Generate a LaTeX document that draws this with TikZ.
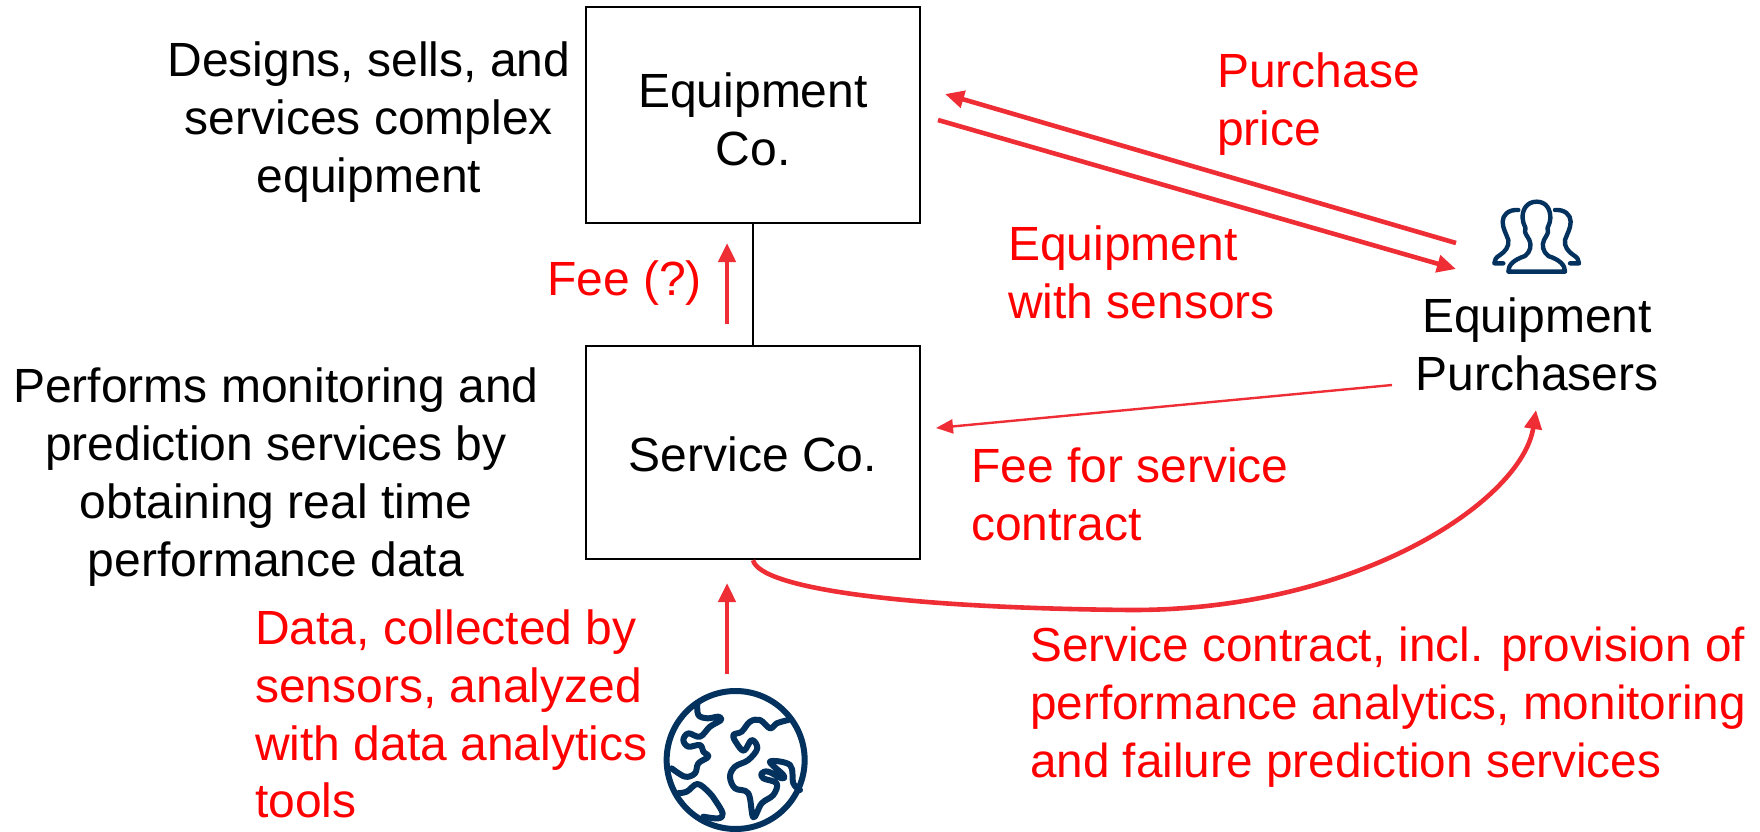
\documentclass[tikz,border=0pt]{standalone}
\usepackage{fontspec}
\setmainfont{Liberation Sans}
\usetikzlibrary{arrows.meta}
\definecolor{arrowred}{HTML}{EE2D35}
\definecolor{navy}{HTML}{03325F}
\tikzset{
  x=1pt,y=-1pt,
  box/.style={draw=black,line width=2.4pt,minimum width=334pt,inner sep=0pt,align=center},
  lbl/.style={inner sep=0pt,align=center,font=\fontsize{48}{57.8}\selectfont},
  rlbl/.style={lbl,text=red,align=left},
  flow/.style={draw=arrowred,line width=4.6pt,-{Triangle[length=19pt,width=17pt]}},
  thinflow/.style={draw=arrowred,line width=2.4pt,-{Triangle[length=17pt,width=14pt]}},
  icon/.style={draw=navy,line width=6pt,line cap=round,line join=round}
}
\begin{document}
\begin{tikzpicture}
\useasboundingbox (0,0) rectangle (1760,831);
\node[box,minimum height=216pt] (equip) at (753,115) {};
\node[box,minimum height=213pt] (service) at (753,452.5) {};
\node[lbl] (equiptext) at (753,119) {Equipment\\Co.};
\node[lbl] (servicetext) at (753,454) {Service Co.};
\node[lbl] (designs) at (369,122) {Designs, sells, and\\services complex\\equipment};
\node[lbl] (performs) at (276,477) {Performs monitoring and\\prediction services by\\obtaining real time\\performance data};
\node[lbl] (purchasers) at (1537,344) {Equipment\\Purchasers};
\node[rlbl] (pprice) at (1217,104) [anchor=west] {Purchase\\price};
\node[rlbl] (withsensors) at (1008,272) [anchor=west] {Equipment\\with sensors};
\node[rlbl] (feeservice) at (971,494) [anchor=west] {Fee for service\\contract};
\node[rlbl,font=\fontsize{47.7}{57.8}\selectfont] (contract) at (1030,707) [anchor=west] {Service contract, incl. provision of\\performance analytics, monitoring\\and failure prediction services};
\node[rlbl] (datacoll) at (255,714) [anchor=west] {Data, collected by\\sensors, analyzed\\with data analytics\\tools};
\node[rlbl] (feeq) at (547,283) [anchor=west] {Fee (?)};
\draw[black,line width=1.6pt] (equip.south) -- (service.north);
% arrow end points
\coordinate (feeS) at (727,324);
\coordinate (feeE) at (727,243);
\coordinate (priceS) at (1456,243);
\coordinate (priceE) at (945,94);
\coordinate (goodsS) at (938,120);
\coordinate (goodsE) at (1456,269);
\coordinate (payS) at (1392,385);
\coordinate (payE) at (936,428);
\coordinate (dataS) at (727,674);
\coordinate (dataE) at (727,583);
\coordinate (curveE) at (1536,410);
\coordinate (curveM) at (1132,610);
\draw[flow] (feeS) -- (feeE);
\draw[flow] (priceS) -- (priceE);
\draw[flow] (goodsS) -- (goodsE);
\draw[thinflow] (payS) -- (payE);
\draw[flow] (dataS) -- (dataE);
\draw[flow] (service.south) .. controls (760,588) and (900,608) .. (curveM)
   .. controls (1360,610) and (1522,500) .. (curveE);
% people icon
\begin{scope}[shift={(1400,150)},x=0.3333pt,y=-0.3333pt,icon,line width=4.4pt]
\draw (325,365) -- (495,365) .. controls (495,345) and (480,330) .. (445,318)
  .. controls (428,305) and (425,285) .. (432,270) .. controls (440,255) and (447,248) .. (443,238)
  .. controls (440,232) and (450,225) .. (451,205) .. controls (452,180) and (440,155) .. (410,155)
  .. controls (380,155) and (366,180) .. (368,205) .. controls (369,225) and (379,232) .. (376,238)
  .. controls (372,248) and (380,255) .. (388,270) .. controls (395,285) and (392,305) .. (375,318)
  .. controls (340,330) and (325,345) .. (325,365) -- cycle;
\draw (355,180) .. controls (325,178) and (308,195) .. (308,215) .. controls (308,235) and (318,250) .. (325,270)
  .. controls (328,290) and (315,305) .. (300,315) .. controls (288,322) and (283,330) .. (283,340) -- (310,340);
\draw (465,180) .. controls (495,178) and (512,195) .. (512,215) .. controls (512,235) and (502,250) .. (495,270)
  .. controls (492,290) and (505,305) .. (520,315) .. controls (532,322) and (537,330) .. (537,340) -- (510,340);
\end{scope}
% globe icon
\begin{scope}[shift={(620,620)},x=0.3333pt,y=-0.3333pt,icon]
\draw (347,420) circle[radius=69pt];
\draw plot[smooth,tension=.6] coordinates {(232,250) (235,285) (262,295) (295,290) (303,300) (270,320) (240,350) (205,340) (190,360) (205,380) (240,375) (250,395) (265,410) (235,430) (225,460) (195,470) (155,445)};
\draw plot[smooth,tension=.6] coordinates {(170,520) (200,515) (232,492) (265,515) (285,540) (308,580) (295,595) (250,590)};
\draw plot[smooth,tension=.6] coordinates {(505,300) (470,310) (450,325) (420,300) (390,305) (365,335) (340,345) (350,370) (372,392) (395,360) (412,385) (385,420) (345,440) (330,470) (345,505) (385,520) (400,592) (425,550) (460,525) (470,490) (430,475) (425,460) (445,455) (485,475) (490,465) (450,425) (510,435) (520,490) (540,510)};
\end{scope}
\end{tikzpicture}
\end{document}
